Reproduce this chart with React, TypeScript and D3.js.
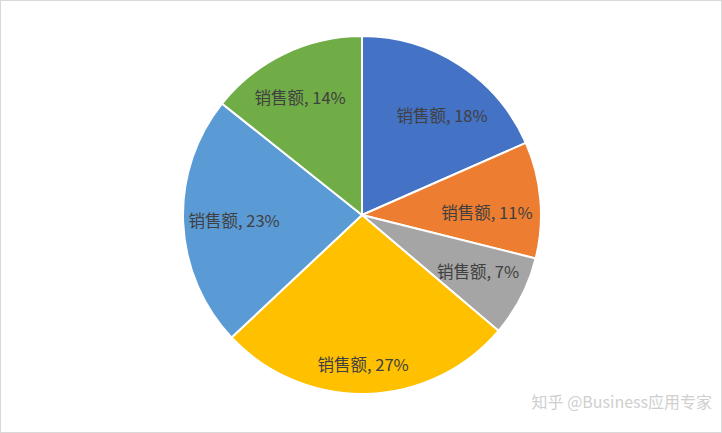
import React from "react";
import * as d3 from "d3";

const categories = ["A", "B", "C", "D", "E", "F"];
const seriesName = "销售额";
const values = [18.4, 10.5, 7.3, 26.8, 22.7, 14.3];
const colors = ["#4472C4", "#ED7D31", "#A5A5A5", "#FFC000", "#5B9BD5", "#70AD47"];

// label layout (best-fit placement): radius and angular nudge in degrees
const labelR = [128, 125, 129, 149, 128, 133];
const labelNudge = [5.6, 3.5, -1.4, 1, 0, -2];

export default function App() {
  const W = 722, H = 433;
  const cx = 362, cy = 215, r = 179;
  const pie = d3.pie<number>().sort(null).value((d) => d)(values);
  const arc = d3.arc<d3.PieArcDatum<number>>().innerRadius(0).outerRadius(r);
  const total = d3.sum(values);
  return (
    <svg width={W} height={H} style={{ position: "absolute", left: 0, top: 0 }}>
      <rect x={0.5} y={0.5} width={W - 1} height={H - 1} fill="#fff" stroke="#D9D9D9" />
      <g transform={`translate(${cx},${cy})`}>
        {pie.map((p, i) => (
          <path key={categories[i]} d={arc(p) || ""} fill={colors[i]} stroke="#fff" strokeWidth={2} />
        ))}
        {pie.map((p, i) => {
          const a = (p.startAngle + p.endAngle) / 2 + (labelNudge[i] * Math.PI) / 180;
          const lr = labelR[i];
          const x = Math.sin(a) * lr;
          const y = -Math.cos(a) * lr;
          return (
            <text key={"t" + i} x={x} y={y} textAnchor="middle" dominantBaseline="central"
              fontFamily="'Noto Sans CJK SC', sans-serif" fontSize={16.5} fill="#404040">
              {`${seriesName}, ${Math.round((p.value / total) * 100)}%`}
            </text>
          );
        })}
      </g>
      <text x={712} y={408} textAnchor="end" fontFamily="'Noto Sans CJK SC', sans-serif" fontSize={16}
        fill="#bbbbbb" opacity={0.7}>知乎 @Business应用专家</text>
    </svg>
  );
}
